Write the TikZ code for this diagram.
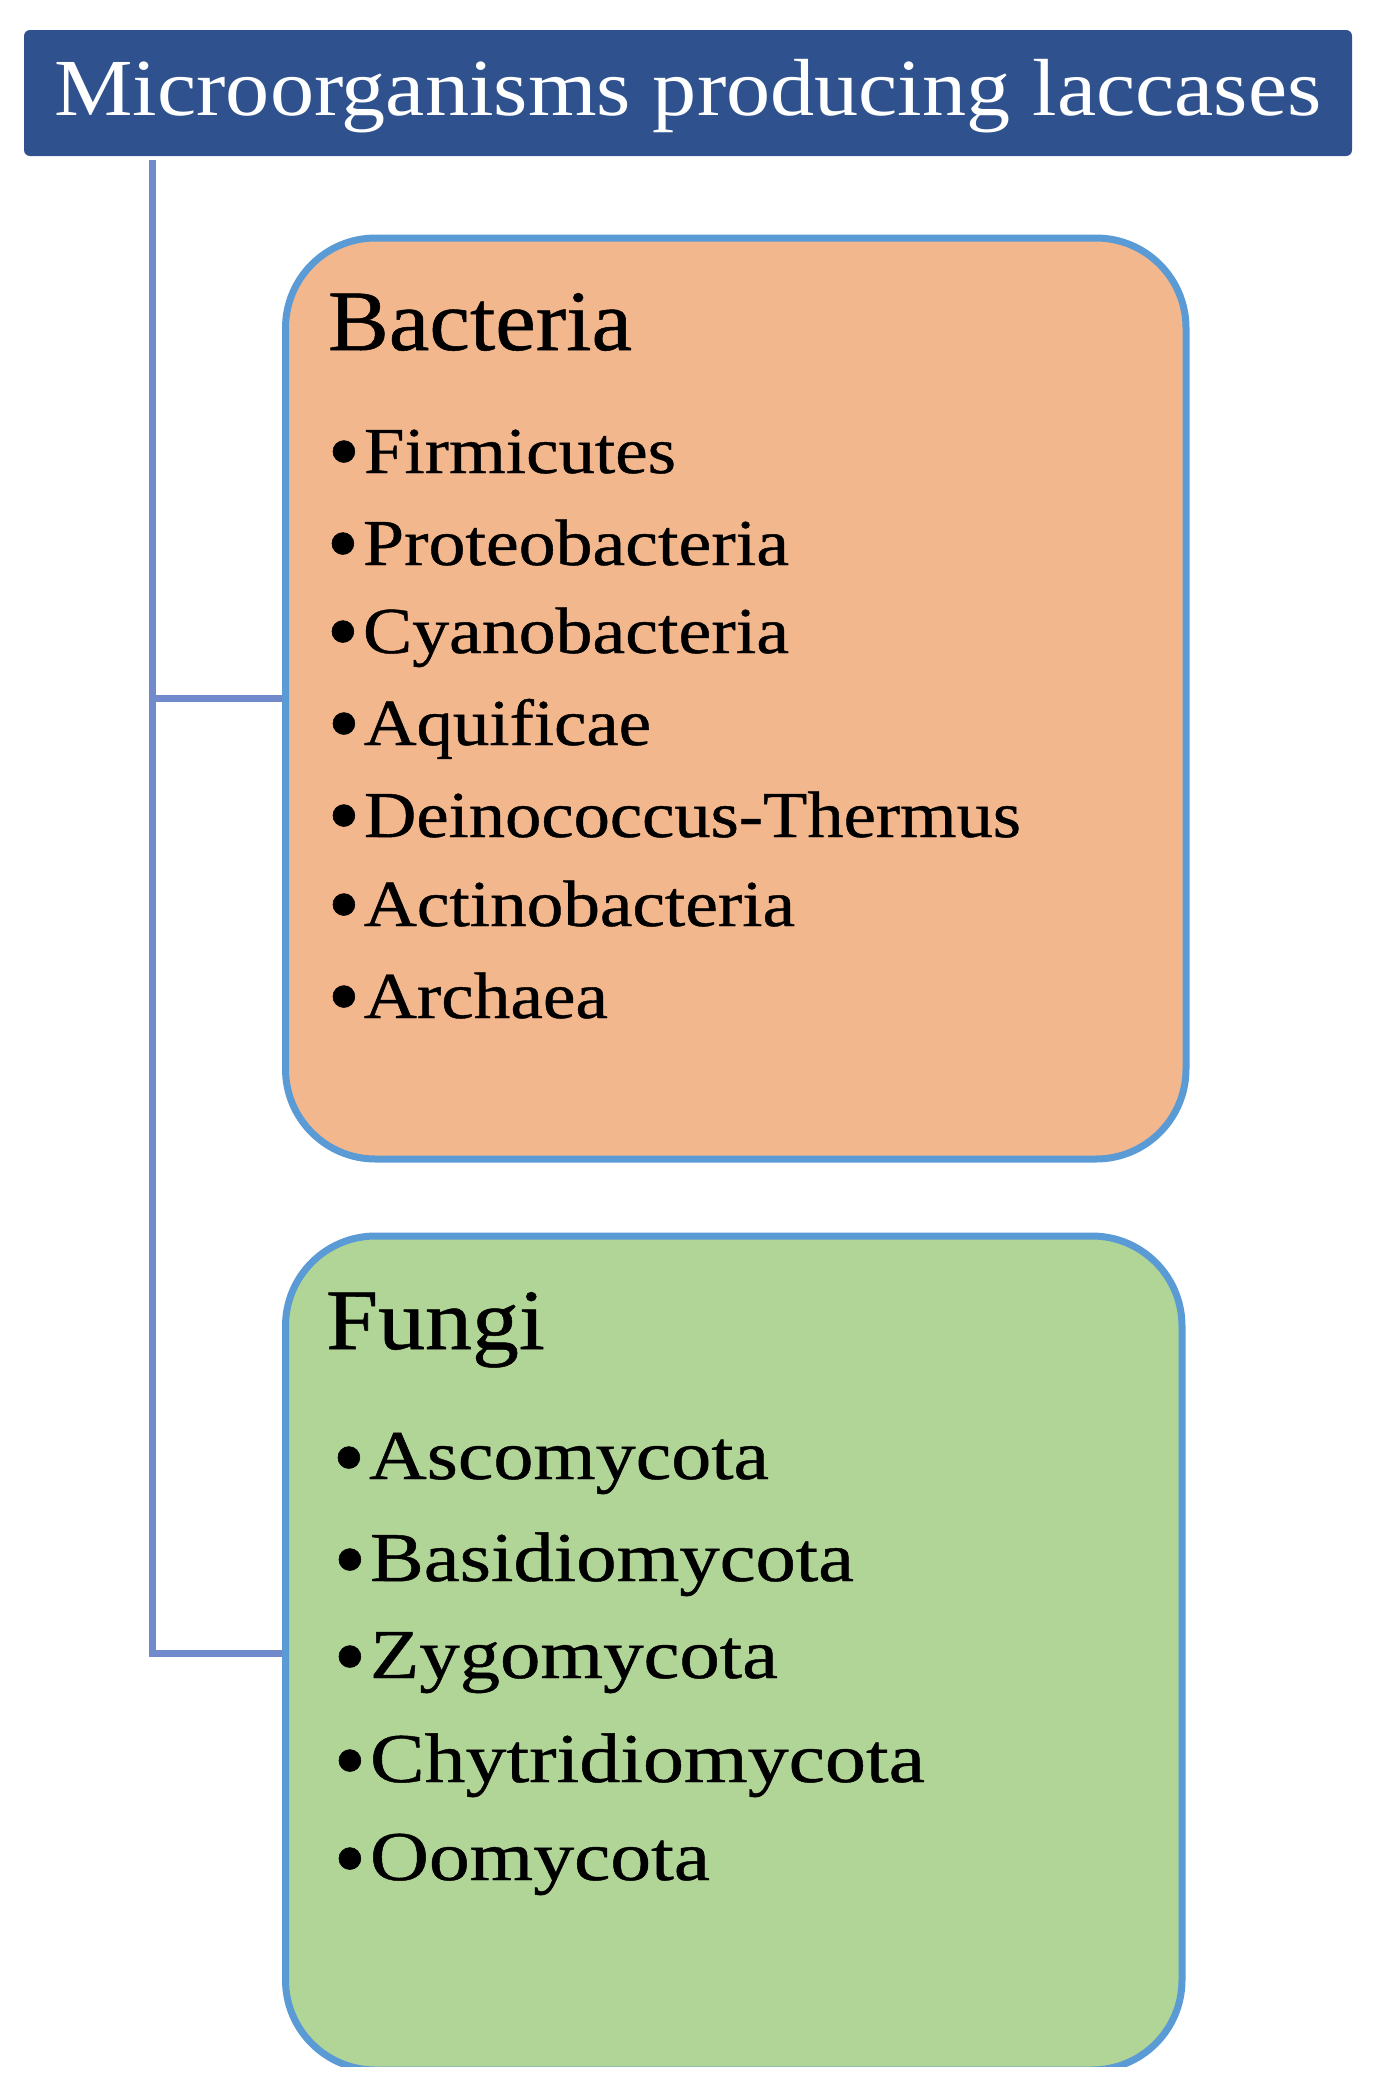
\documentclass[tikz,border=0pt]{standalone}
\usepackage{fontspec}
\setmainfont{Liberation Serif}
\newfontfamily\darkfont[FakeBold=0.6]{Liberation Serif}
\usepackage{graphicx}
\usetikzlibrary{backgrounds}
\definecolor{titleblue}{RGB}{47,82,143}
\definecolor{connblue}{RGB}{112,138,204}
\definecolor{borderblue}{RGB}{91,155,213}
\definecolor{bactfill}{RGB}{243,183,142}
\definecolor{fungfill}{RGB}{177,212,151}
\newcommand\fitw[2]{\resizebox{#1}{\height}{#2}}
\newcommand\bulb{\llap{\raisebox{-4.5pt}{\fontsize{46}{46}\selectfont\textbullet}\hspace{2pt}}}
\tikzset{
  conn/.style={draw=connblue, line width=3.5pt},
  grpbox/.style={rectangle, draw=borderblue, line width=3.5pt, rounded corners=45pt,
    inner sep=0pt, outer sep=0pt, anchor=north west},
  titlebox/.style={rectangle, fill=titleblue, rounded corners=3pt, inner sep=0pt, outer sep=0pt,
    anchor=north west, minimum width=664pt, text height=42.5pt, text depth=20.5pt,
    text=white, align=center, font=\fontsize{40.5}{48}\selectfont},
  head/.style={anchor=base west, inner sep=0pt, outer sep=0pt, font=\darkfont\fontsize{43}{50}\selectfont},
  bitem/.style={anchor=base west, inner sep=0pt, outer sep=0pt, font=\darkfont\fontsize{32.8}{40}\selectfont},
  fitem/.style={anchor=base west, inner sep=0pt, outer sep=0pt, font=\darkfont\fontsize{35}{42}\selectfont},
}
\begin{document}
\begin{tikzpicture}[x=0.5pt, y=-0.5pt]
\useasboundingbox (0,0) rectangle (1372,2093);

% title
\node[titlebox] (title) at (24,30) {\fitw{633.5pt}{Microorganisms producing laccases}};

% group boxes
\node[grpbox, fill=bactfill, minimum width=450.25pt, minimum height=460.5pt] (bacteria) at (285.5,238) {};
\begin{scope}
  \clip (0,0) rectangle (1372,2066);
  \node[grpbox, fill=fungfill, minimum width=448.25pt, minimum height=417pt] (fungi) at (285.5,1236) {};
\end{scope}

% connectors
\coordinate (trunk) at ([xshift=64pt,yshift=-2pt]title.south west);
\begin{scope}[on background layer]
  \draw[conn] (trunk) |- (fungi.west);
  \draw[conn] (trunk |- bacteria.west) -- (bacteria.west);
\end{scope}

% bacteria text
\node[head] (bhead) at (328,350) {\fitw{152pt}{Bacteria}};
\node[bitem] (b1) at (364,473) {\bulb\fitw{156pt}{Firmicutes}};
\node[bitem] (b2) at (363,565) {\bulb\fitw{213pt}{Proteobacteria}};
\node[bitem] (b3) at (363,653) {\bulb\fitw{213pt}{Cyanobacteria}};
\node[bitem] (b4) at (364,745) {\bulb\fitw{143.5pt}{Aquificae}};
\node[bitem] (b5) at (364,837) {\bulb\fitw{328.5pt}{Deinococcus-Thermus}};
\node[bitem] (b6) at (364,926) {\bulb\fitw{215.5pt}{Actinobacteria}};
\node[bitem] (b7) at (364,1018) {\bulb\fitw{122pt}{Archaea}};

% fungi text
\node[head] (fhead) at (326,1349) {\fitw{109.5pt}{Fungi}};
\node[fitem] (f1) at (369,1479) {\bulb\fitw{200pt}{Ascomycota}};
\node[fitem] (f2) at (370,1581) {\bulb\fitw{242pt}{Basidiomycota}};
\node[fitem] (f3) at (370,1678) {\bulb\fitw{204pt}{Zygomycota}};
\node[fitem] (f4) at (370,1782) {\bulb\fitw{277.5pt}{Chytridiomycota}};
\node[fitem] (f5) at (370,1880) {\bulb\fitw{170pt}{Oomycota}};
\end{tikzpicture}
\end{document}
